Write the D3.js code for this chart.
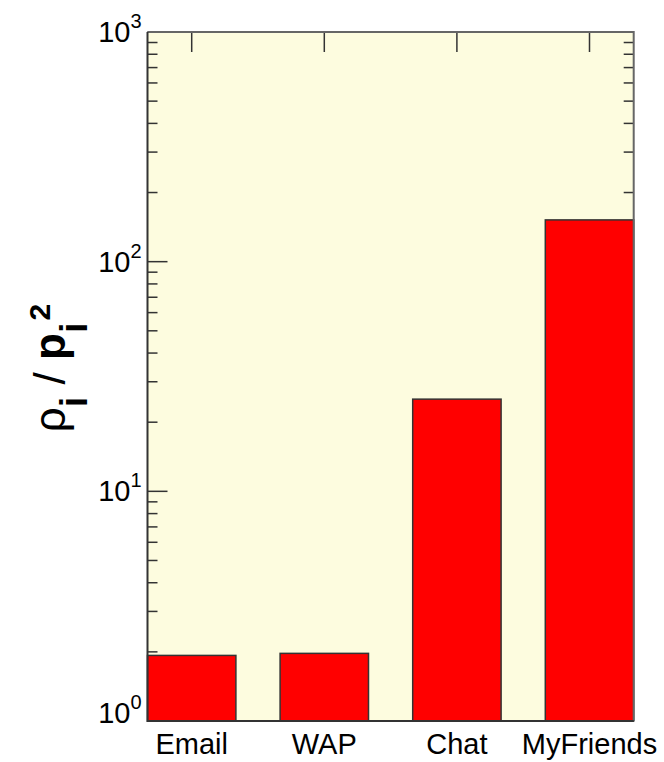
<!DOCTYPE html>
<html>
<head>
<meta charset="utf-8">
<script src="https://cdn.jsdelivr.net/npm/d3@7"></script>
<style>
  body { margin: 0; background: #fff; }
  svg { display: block; font-family: "Liberation Sans", Arial, sans-serif; }
</style>
</head>
<body>
<svg id="chart"></svg>
<script>
const width = 664;
const height = 762;
const plotLeft = 147.5, plotRight = 633.7, plotTop = 32, plotBottom = 721;

const categories = ['Email', 'WAP', 'Chat', 'MyFriends'];
const values = [1.93, 1.97, 25.2, 152];
const decades = [0, 1, 2, 3];

const svg = d3.select('#chart').attr('width', width).attr('height', height);

const x = d3.scaleLinear().domain([2 / 3, 13 / 3]).range([plotLeft, plotRight]);
const y = d3.scaleLog().domain([1, 1000]).range([plotBottom, plotTop]);

// plot background
svg.append('rect')
    .attr('x', plotLeft).attr('y', plotTop)
    .attr('width', plotRight - plotLeft).attr('height', plotBottom - plotTop)
    .attr('fill', '#fdfcdf');

// minor + major ticks on left and right
let tickVals = [];
for (let d = 0; d < 3; d++) {
    for (let m = 1; m < 10; m++) tickVals.push({v: m * Math.pow(10, d), major: m == 1});
}
tickVals.push({v: 1000, major: true});

const ticks = svg.append('g').attr('stroke', '#333').attr('stroke-width', 1.5);
tickVals.forEach(t => {
    const len = t.major ? 20 : 10;
    ticks.append('line')
        .attr('x1', plotLeft).attr('x2', plotLeft + len)
        .attr('y1', y(t.v)).attr('y2', y(t.v));
    ticks.append('line')
        .attr('x1', plotRight).attr('x2', plotRight - len)
        .attr('y1', y(t.v)).attr('y2', y(t.v));
});

// top ticks at category centres
categories.forEach((c, i) => {
    ticks.append('line')
        .attr('x1', x(i + 1)).attr('x2', x(i + 1))
        .attr('y1', plotTop).attr('y2', plotTop + 20);
});

// bars
svg.selectAll('.bar').data(values)
    .enter()
    .append('rect')
    .attr('class', 'bar')
    .attr('x', (d, i) => x(i + 1 - 1 / 3))
    .attr('width', x(5 / 3) - x(1))
    .attr('y', d => y(d))
    .attr('height', d => plotBottom - y(d))
    .attr('fill', '#ff0000')
    .attr('stroke', '#333')
    .attr('stroke-width', 1.5);

// frame
svg.append('path')
    .attr('d', `M${plotLeft},${plotTop}H${plotRight}V${plotBottom}`)
    .attr('fill', 'none').attr('stroke', '#666').attr('stroke-width', 2);
svg.append('path')
    .attr('d', `M${plotRight},${plotBottom}H${plotLeft}V${plotTop}`)
    .attr('fill', 'none').attr('stroke', '#333').attr('stroke-width', 2);

// y tick labels
decades.forEach(d => {
    const base = y(Math.pow(10, d)) + (d == 0 ? 2 : 10);
    svg.append('text')
        .attr('x', plotLeft - 17)
        .attr('y', base)
        .attr('text-anchor', 'end')
        .attr('font-size', 29)
        .attr('fill', '#000')
        .text('10');
    svg.append('text')
        .attr('x', plotLeft - 17)
        .attr('y', base - 14)
        .attr('font-size', 20)
        .attr('fill', '#000')
        .text(d);
});

// x labels
categories.forEach((c, i) => {
    svg.append('text')
        .attr('x', x(i + 1))
        .attr('y', 754)
        .attr('text-anchor', 'middle')
        .attr('font-size', 29)
        .attr('fill', '#000')
        .text(c);
});

// y axis title
const title = svg.append('text')
    .attr('transform', 'translate(65,368) rotate(-90)')
    .attr('text-anchor', 'middle')
    .attr('font-size', 44)
    .attr('fill', '#000');
title.append('tspan').text('ρ');
title.append('tspan').attr('font-weight', 'bold').attr('font-size', 38).attr('dy', 22).text('i');
title.append('tspan').attr('dy', -22).text(' / ');
title.append('tspan').attr('font-weight', 'bold').text('p');
title.append('tspan').attr('font-weight', 'bold').attr('font-size', 38).attr('dy', 22).text('i');
title.append('tspan').attr('font-weight', 'bold').attr('font-size', 30).attr('dx', 2).attr('dy', -37).text('2');
</script>
</body>
</html>
